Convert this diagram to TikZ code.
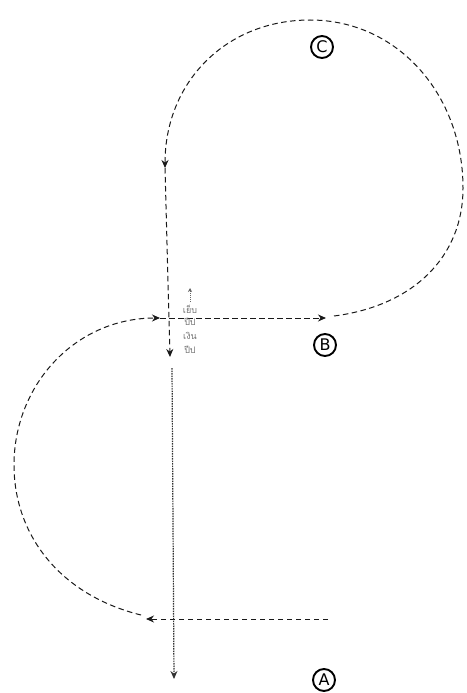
\documentclass[tikz,border=0pt]{standalone}
\usepackage{fontspec}
\newfontfamily\dv{DejaVu Sans}
\newfontfamily\thaifont[Script=Thai]{Loma}
\usetikzlibrary{arrows.meta}
\tikzset{
  track/.style={draw=black!90, line width=1pt, dash pattern=on 5.5pt off 3.5pt, -{Stealth[length=8pt,width=7pt]}},
  dotline/.style={draw=black!80, line width=1.2pt, dash pattern=on 1.5pt off 1pt, -{Stealth[length=8pt,width=7pt]}},
  tiny/.style={draw=black!60, line width=0.7pt, dash pattern=on 1pt off 1pt, -{Stealth[length=4pt,width=4pt]}},
  mark letter/.style={circle, draw=black, line width=1.9pt, minimum size=22pt, inner sep=0pt, font=\dv\fontsize{16}{16}\selectfont},
  thaitxt/.style={font=\thaifont\fontsize{9}{9}\selectfont, text=black!55, inner sep=0pt}
}
\begin{document}
\begin{tikzpicture}[x=1pt,y=-1pt]
\useasboundingbox (0,0) rectangle (466,693);
% named points
\coordinate (a0) at (328,619);
\coordinate (a1) at (146,619);
\coordinate (l0) at (141,615);
\coordinate (l1) at (160,318);
\coordinate (b0) at (160,318);
\coordinate (b1) at (326,318);
\coordinate (c0) at (334,316);
\coordinate (c1) at (165,168);
\coordinate (v0) at (165,168);
\coordinate (v1) at (170,357);
\coordinate (d0) at (172,368);
\coordinate (d1) at (174,679);
\coordinate (t0) at (190,302);
\coordinate (t1) at (190,288);
% paths
\draw[track] (a0) -- (a1);
\draw[track] (l0) .. controls (60,595) and (14,535) .. (14,465)
                .. controls (14,385) and (75,318) .. (l1);
\draw[track] (b0) -- (b1);
\draw[track] (c0) .. controls (412,306) and (463,258) .. (463,188)
                .. controls (463,95) and (398,20) .. (310,20)
                .. controls (226,20) and (165,82) .. (c1);
\draw[track] (v0) -- (v1);
\draw[dotline] (d0) -- (d1);
\draw[tiny] (t0) -- (t1);
% small text
\node[thaitxt] (s1) at (190,309) {เย็บ};
\node[thaitxt] (s2) at (190,322) {ปีป};
\node[thaitxt] (s3) at (190,336) {เงิน};
\node[thaitxt] (s4) at (190,350) {ปีป};
% letters
\node[mark letter] (C) at (322,47) {C};
\node[mark letter] (B) at (325,345) {B};
\node[mark letter] (A) at (324,680) {A};
\end{tikzpicture}
\end{document}
